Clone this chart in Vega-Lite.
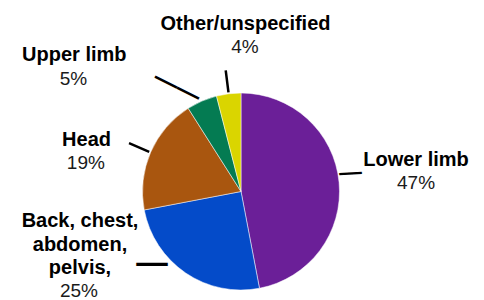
{
  "$schema": "https://vega.github.io/schema/vega-lite/v6.json",
  "width": 482,
  "height": 217,
  "autosize": "none",
  "padding": {"left": 0, "top": 83, "right": 2, "bottom": 0},
  "background": "white",
  "view": {"stroke": null},
  "data": {
    "values": [
      {"part": "Lower limb", "label": "Lower limb", "value": 0.47},
      {"part": "Back, chest, abdomen, pelvis", "label": "Back, chest,\nabdomen,\npelvis,", "value": 0.25},
      {"part": "Head", "label": "Head", "value": 0.19},
      {"part": "Upper limb", "label": "Upper limb", "value": 0.05},
      {"part": "Other/unspecified", "label": "Other/unspecified", "value": 0.04}
    ]
  },
  "encoding": {
    "theta": {"field": "value", "type": "quantitative", "stack": true},
    "order": {"field": "value", "type": "quantitative", "sort": "descending"}
  },
  "layer": [
    {
      "mark": {"type": "arc", "radius": 98.5, "stroke": "white", "strokeWidth": 0.5},
      "encoding": {
        "color": {
          "field": "part",
          "type": "nominal",
          "scale": {
            "domain": ["Lower limb", "Back, chest, abdomen, pelvis", "Head", "Upper limb", "Other/unspecified"],
            "range": ["#6b1f98", "#044bc9", "#a9560f", "#047b52", "#dad500"]
          },
          "legend": null
        }
      }
    },
    {
      "mark": {"type": "arc", "radius": 122, "radius2": 100, "padAngle": 2, "filled": false, "stroke": "black", "strokeWidth": 2.5},
      "encoding": {"opacity": {"condition": {"test": "datum.part === 'Head' || datum.part === 'Other/unspecified'", "value": 1}, "value": 0}}
    },
    {
      "mark": {"type": "text", "radius": 150, "dx": -39.5, "dy": -6.8, "angle": -3, "font": "Liberation Sans", "fontWeight": "bold", "fontSize": 22.7, "align": "center", "baseline": "middle", "color": "black"},
      "encoding": {"text": {"value": "—"}, "opacity": {"condition": {"test": "datum.part === 'Lower limb'", "value": 1}, "value": 0}}
    },
    {
      "mark": {"type": "text", "radius": 150, "dx": -4.7, "dy": -51.9, "font": "Liberation Sans", "fontWeight": "bold", "fontSize": 31.5, "align": "center", "baseline": "middle", "color": "black"},
      "encoding": {"text": {"value": "—"}, "opacity": {"condition": {"test": "datum.part === 'Back, chest, abdomen, pelvis'", "value": 1}, "value": 0}}
    },
    {
      "mark": {"type": "text", "radius": 150, "dx": 11.25, "dy": 31.7, "angle": 26.7, "font": "Liberation Sans", "fontWeight": "bold", "fontSize": 24.6, "align": "center", "baseline": "middle", "color": "black"},
      "encoding": {"text": {"value": "——"}, "opacity": {"condition": {"test": "datum.part === 'Upper limb'", "value": 1}, "value": 0}}
    },
    {
      "mark": {"type": "text", "radius": 150, "dx": 25.7, "dy": -11.4, "font": "Liberation Sans", "fontWeight": "bold", "fontSize": 20, "align": "center", "baseline": "alphabetic", "color": "black"},
      "encoding": {"text": {"field": "label"}, "opacity": {"condition": {"test": "datum.part === 'Lower limb'", "value": 1}, "value": 0}}
    },
    {
      "mark": {"type": "text", "radius": 150, "dx": 25.7, "dy": 12.1, "font": "Liberation Sans", "fontSize": 19, "align": "center", "baseline": "alphabetic", "color": "#1a1a1a"},
      "encoding": {"text": {"field": "value", "format": ".0%"}, "opacity": {"condition": {"test": "datum.part === 'Lower limb'", "value": 1}, "value": 0}}
    },
    {
      "mark": {"type": "text", "radius": 150, "dx": 23.3, "dy": -12.2, "font": "Liberation Sans", "fontWeight": "bold", "fontSize": 20, "align": "center", "baseline": "alphabetic", "color": "black"},
      "encoding": {"text": {"field": "label"}, "opacity": {"condition": {"test": "datum.part === 'Other/unspecified'", "value": 1}, "value": 0}}
    },
    {
      "mark": {"type": "text", "radius": 150, "dx": 22.8, "dy": 10.6, "font": "Liberation Sans", "fontSize": 19, "align": "center", "baseline": "alphabetic", "color": "#1a1a1a"},
      "encoding": {"text": {"field": "value", "format": ".0%"}, "opacity": {"condition": {"test": "datum.part === 'Other/unspecified'", "value": 1}, "value": 0}}
    },
    {
      "mark": {"type": "text", "radius": 150, "dx": -107.1, "dy": 7.2, "font": "Liberation Sans", "fontWeight": "bold", "fontSize": 20, "align": "center", "baseline": "alphabetic", "color": "black"},
      "encoding": {"text": {"field": "label"}, "opacity": {"condition": {"test": "datum.part === 'Upper limb'", "value": 1}, "value": 0}}
    },
    {
      "mark": {"type": "text", "radius": 150, "dx": -107.9, "dy": 31.2, "font": "Liberation Sans", "fontSize": 19, "align": "center", "baseline": "alphabetic", "color": "#1a1a1a"},
      "encoding": {"text": {"field": "value", "format": ".0%"}, "opacity": {"condition": {"test": "datum.part === 'Upper limb'", "value": 1}, "value": 0}}
    },
    {
      "mark": {"type": "text", "radius": 150, "dx": -16.8, "dy": 13.8, "font": "Liberation Sans", "fontWeight": "bold", "fontSize": 20, "align": "center", "baseline": "alphabetic", "color": "black"},
      "encoding": {"text": {"field": "label"}, "opacity": {"condition": {"test": "datum.part === 'Head'", "value": 1}, "value": 0}}
    },
    {
      "mark": {"type": "text", "radius": 150, "dx": -17.5, "dy": 37.1, "font": "Liberation Sans", "fontSize": 19, "align": "center", "baseline": "alphabetic", "color": "#1a1a1a"},
      "encoding": {"text": {"field": "value", "format": ".0%"}, "opacity": {"condition": {"test": "datum.part === 'Head'", "value": 1}, "value": 0}}
    },
    {
      "mark": {"type": "text", "radius": 150, "dx": -76.7, "dy": -88.6, "font": "Liberation Sans", "fontWeight": "bold", "fontSize": 20, "align": "center", "baseline": "alphabetic", "lineBreak": "\n", "lineHeight": 23.7, "color": "black"},
      "encoding": {"text": {"field": "label"}, "opacity": {"condition": {"test": "datum.part === 'Back, chest, abdomen, pelvis'", "value": 1}, "value": 0}}
    },
    {
      "mark": {"type": "text", "radius": 150, "dx": -77.7, "dy": -19, "font": "Liberation Sans", "fontSize": 19, "align": "center", "baseline": "alphabetic", "color": "#1a1a1a"},
      "encoding": {"text": {"field": "value", "format": ".0%"}, "opacity": {"condition": {"test": "datum.part === 'Back, chest, abdomen, pelvis'", "value": 1}, "value": 0}}
    }
  ]
}
